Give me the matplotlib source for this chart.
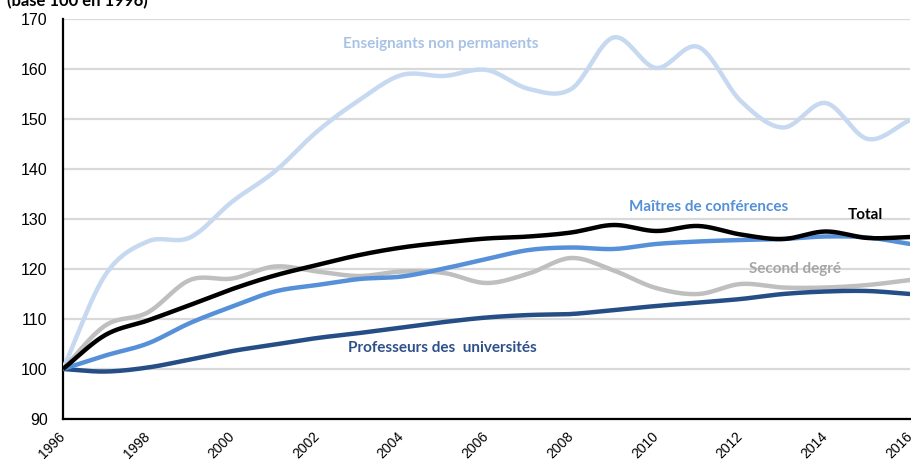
import numpy as np
import matplotlib
matplotlib.use('Agg')
import matplotlib.pyplot as plt
import matplotlib.transforms as mtransforms

years = list(range(1996, 2017))

enseignants_non_perm = [100, 118.8, 125.5, 126.3, 133.5, 139.5, 147.5, 153.8, 158.8, 158.6, 159.8,
                        156.0, 156.0, 166.3, 160.2, 164.4, 153.6, 148.3, 153.2, 146.0, 149.8]
maitres_conf = [100, 102.7, 105.1, 109.2, 112.5, 115.5, 116.8, 118.0, 118.5, 120.1, 122.0,
                123.8, 124.3, 124.0, 125.0, 125.5, 125.8, 126.0, 126.5, 126.3, 125.0]
total = [100, 106.8, 109.7, 112.8, 116.0, 118.7, 120.8, 122.8, 124.3, 125.3, 126.1,
         126.5, 127.3, 128.8, 127.6, 128.6, 126.9, 126.0, 127.5, 126.2, 126.4]
second_degre = [100, 108.7, 111.3, 117.8, 118.1, 120.5, 119.5, 118.6, 119.5, 119.2, 117.2,
                119.1, 122.2, 119.7, 116.2, 115.0, 117.0, 116.3, 116.3, 116.8, 117.8]
prof_univ = [100, 99.5, 100.3, 101.9, 103.6, 104.9, 106.2, 107.2, 108.3, 109.4, 110.3,
             110.8, 111.0, 111.8, 112.6, 113.3, 114.0, 115.0, 115.5, 115.6, 115.0]

x_ticks = list(range(1996, 2017, 2))


def smooth(x, y, n=20):
    # catmull-rom, just to get the rounded look of the original
    x = np.asarray(x, float)
    y = np.asarray(y, float)
    px = np.concatenate([[2 * x[0] - x[1]], x, [2 * x[-1] - x[-2]]])
    py = np.concatenate([[2 * y[0] - y[1]], y, [2 * y[-1] - y[-2]]])
    xs, ys = [], []
    t = np.linspace(0, 1, n, endpoint=False)
    for i in range(1, len(px) - 2):
        for arr, out in ((px, xs), (py, ys)):
            p0, p1, p2, p3 = arr[i - 1], arr[i], arr[i + 1], arr[i + 2]
            out.extend(0.5 * (2 * p1 + (-p0 + p2) * t + (2 * p0 - 5 * p1 + 4 * p2 - p3) * t ** 2
                              + (-p0 + 3 * p1 - 3 * p2 + p3) * t ** 3))
    xs.append(x[-1])
    ys.append(y[-1])
    return xs, ys


fig = plt.figure(figsize=(9.12, 4.62), dpi=100)
ax = fig.add_axes([0.069, 0.093, 0.929, 0.866])

series = [
    (enseignants_non_perm, '#c6d9f1'),
    (second_degre, '#bfbfbf'),
    (prof_univ, '#254e86'),
    (maitres_conf, '#5590d9'),
    (total, '#000000'),
]
for vals, col in series:
    sx, sy = smooth(years, vals)
    ax.plot(sx, sy, color=col, lw=3.2, solid_capstyle='butt', zorder=3)

ax.set_xlim(1996, 2016)
ax.set_ylim(90, 170)
ax.set_yticks(range(90, 171, 10))
ax.set_xticks(x_ticks)
ax.set_xticklabels([str(v) for v in x_ticks], rotation=45, ha='right', va='center',
                   rotation_mode='anchor', family='Liberation Sans', fontsize=10)
shift = mtransforms.ScaledTranslation(4 / 100, 0, fig.dpi_scale_trans)
for lab in ax.get_xticklabels():
    lab.set_transform(lab.get_transform() + shift)
for lab in ax.get_yticklabels():
    lab.set_family('Liberation Sans')
    lab.set_fontsize(11.5)
ax.tick_params(length=0)
ax.tick_params(axis='y', pad=11)
ax.tick_params(axis='x', pad=11)
ax.grid(axis='y', color='#d9d9d9', lw=1.6, zorder=0)
for s in ['top', 'right']:
    ax.spines[s].set_visible(False)
ax.spines['left'].set_linewidth(1.6)
ax.spines['bottom'].set_linewidth(1.6)

fnt = dict(family='Lato', weight='bold', fontsize=11, ha='center', va='center')
ax.text(2004.91, 165.0, 'Enseignants non permanents', color='#a8c2e6', **fnt)
ax.text(2011.25, 132.4, 'Maîtres de conférences', color='#5590d9', **fnt)
ax.text(2014.94, 130.8, 'Total', color='#000000', **fnt)
ax.text(2013.28, 120.0, 'Second degré', color='#a6a6a6', **fnt)
ax.text(2004.96, 104.2, 'Professeurs des  universités', color='#2e5089', **fnt)

fig.text(0.008, 0.987, '(base 100 en 1996)', family='Lato', weight='bold',
         fontsize=12, ha='left', va='baseline')

fig.savefig('out.png', dpi=100)
